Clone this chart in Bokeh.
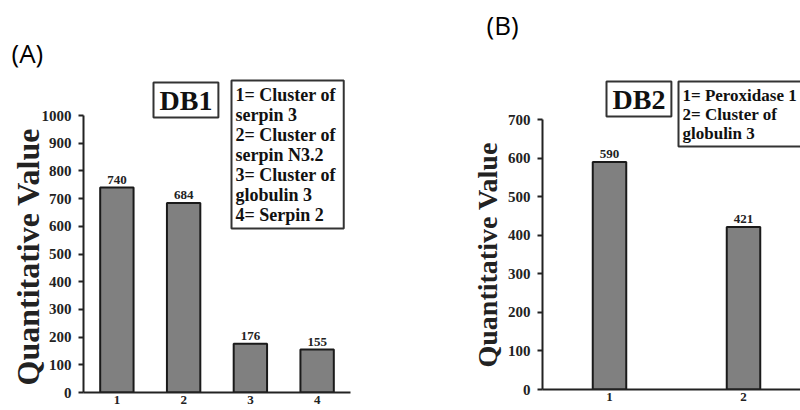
import math
from bokeh.plotting import figure
from bokeh.models import Range1d, SingleIntervalTicker, Label, Title, ColumnDataSource
from bokeh.layouts import row
from bokeh.embed import file_html
from bokeh.resources import INLINE
from bokeh.core.properties import value

# ---- data ----
db1_categories = [1, 2, 3, 4]
db1_values = [740, 684, 176, 155]
db1_legend = ["1= Cluster of", "serpin 3", "2= Cluster of", "serpin N3.2",
              "3= Cluster of", "globulin 3", "4= Serpin 2"]

db2_categories = [1, 2]
db2_values = [590, 421]
db2_legend = ["1= Peroxidase 1", "2= Cluster of", "globulin 3"]

y_label = "Quantitative Value"
SERIF = "Liberation Serif"
SANS = "Open Sans"


def style(p, ymax, cats):
    p.xgrid.visible = False
    p.ygrid.visible = False
    p.outline_line_color = None
    p.background_fill_color = "white"
    p.border_fill_color = "white"
    p.yaxis.ticker = SingleIntervalTicker(interval=100)
    p.yaxis.bounds = (0, ymax)
    p.xaxis.ticker = cats
    for ax in (p.xaxis[0], p.yaxis[0]):
        ax.axis_line_color = "#222222"
        ax.axis_line_width = 2
        ax.minor_tick_line_color = None
        ax.major_tick_in = 0
        ax.major_label_text_font = SERIF
        ax.major_label_text_font_style = "bold"
        ax.major_label_text_color = "#222222"
    p.yaxis.major_tick_out = 5
    p.yaxis.major_tick_line_width = 2
    p.yaxis.major_tick_line_color = "#222222"
    p.yaxis.major_label_text_font_size = "15px"
    p.yaxis.major_label_standoff = 7
    p.xaxis.major_tick_out = 0
    p.xaxis.major_tick_line_color = None
    p.xaxis.major_label_standoff = 3
    p.xaxis.major_label_text_font_size = "13px"


def bars(p, cats, vals, width):
    src = ColumnDataSource(dict(x=cats, top=vals, lab=[str(v) for v in vals]))
    p.vbar(x="x", top="top", width=width, bottom=0, source=src,
           fill_color="#808080", line_color="#1a1a1a", line_width=2)
    p.text(x="x", y="top", text="lab", source=src, y_offset=-4,
           text_align="center", text_baseline="bottom",
           text_font=value(SERIF), text_font_style="bold",
           text_font_size="13px", text_color="#222222")


def boxed(p, x, y, text, size, pad):
    p.add_layout(Label(x=x, y=y, x_units="screen", y_units="screen", text=text,
                       text_font=SERIF, text_font_style="bold",
                       text_font_size=size, text_align="left",
                       text_baseline="top", text_line_height=1.0,
                       text_color="#111111", border_line_color="#333333",
                       border_line_width=2, background_fill_color="white",
                       padding=pad))


def panel_tag(p, text, offset, pad_bottom):
    p.add_layout(Title(text=text, align="left", offset=offset, standoff=0,
                       vertical_align="bottom", text_font=SANS,
                       text_font_style="normal", text_font_size="26px",
                       text_color="black",
                       padding=dict(left=0, right=0, top=0, bottom=pad_bottom)),
                 "above")


def ylab(p, size, offset, standoff):
    p.add_layout(Title(text=y_label, align="left", offset=offset,
                       standoff=standoff, vertical_align="bottom",
                       text_font=SERIF, text_font_style="bold",
                       text_font_size=size, text_color="#222222"), "left")


# ---- panel A ----
p1 = figure(width=400, height=410, x_range=Range1d(0.5, 4.5),
            y_range=Range1d(0, (392 - 78) / 0.277), min_border_left=83,
            min_border_right=50, min_border_top=78, min_border_bottom=18,
            output_backend="svg", toolbar_location=None)
style(p1, 1000, db1_categories)
bars(p1, db1_categories, db1_values, 0.5)
panel_tag(p1, "(A)", -72, 8)
ylab(p1, "32px", 7, -15)
boxed(p1, 70, 310, "DB1", "28px", dict(left=6, right=6, top=2, bottom=2))
boxed(p1, 148, 312, "\n".join(db1_legend), "18px",
      dict(left=4, right=8, top=4, bottom=4))

# ---- panel B ----
p2 = figure(width=400, height=407, x_range=Range1d(0.5, 0.5 + 258 / 134),
            y_range=Range1d(0, (389 - 78) * 700 / 270), min_border_left=142,
            min_border_right=0, min_border_top=78, min_border_bottom=18,
            output_backend="svg", toolbar_location=None)
style(p2, 700, db2_categories)
bars(p2, db2_categories, db2_values, 0.25)
panel_tag(p2, "(B)", -56, 36)
ylab(p2, "28px", 22, 3)
boxed(p2, 64, 308, "DB2", "28px", dict(left=6, right=6, top=2, bottom=2))
boxed(p2, 136, 308, "\n".join(db2_legend), "17px",
      dict(left=4, right=8, top=4, bottom=4))

layout = row(p1, p2)
open("out.html", "w").write(file_html(layout, INLINE))
